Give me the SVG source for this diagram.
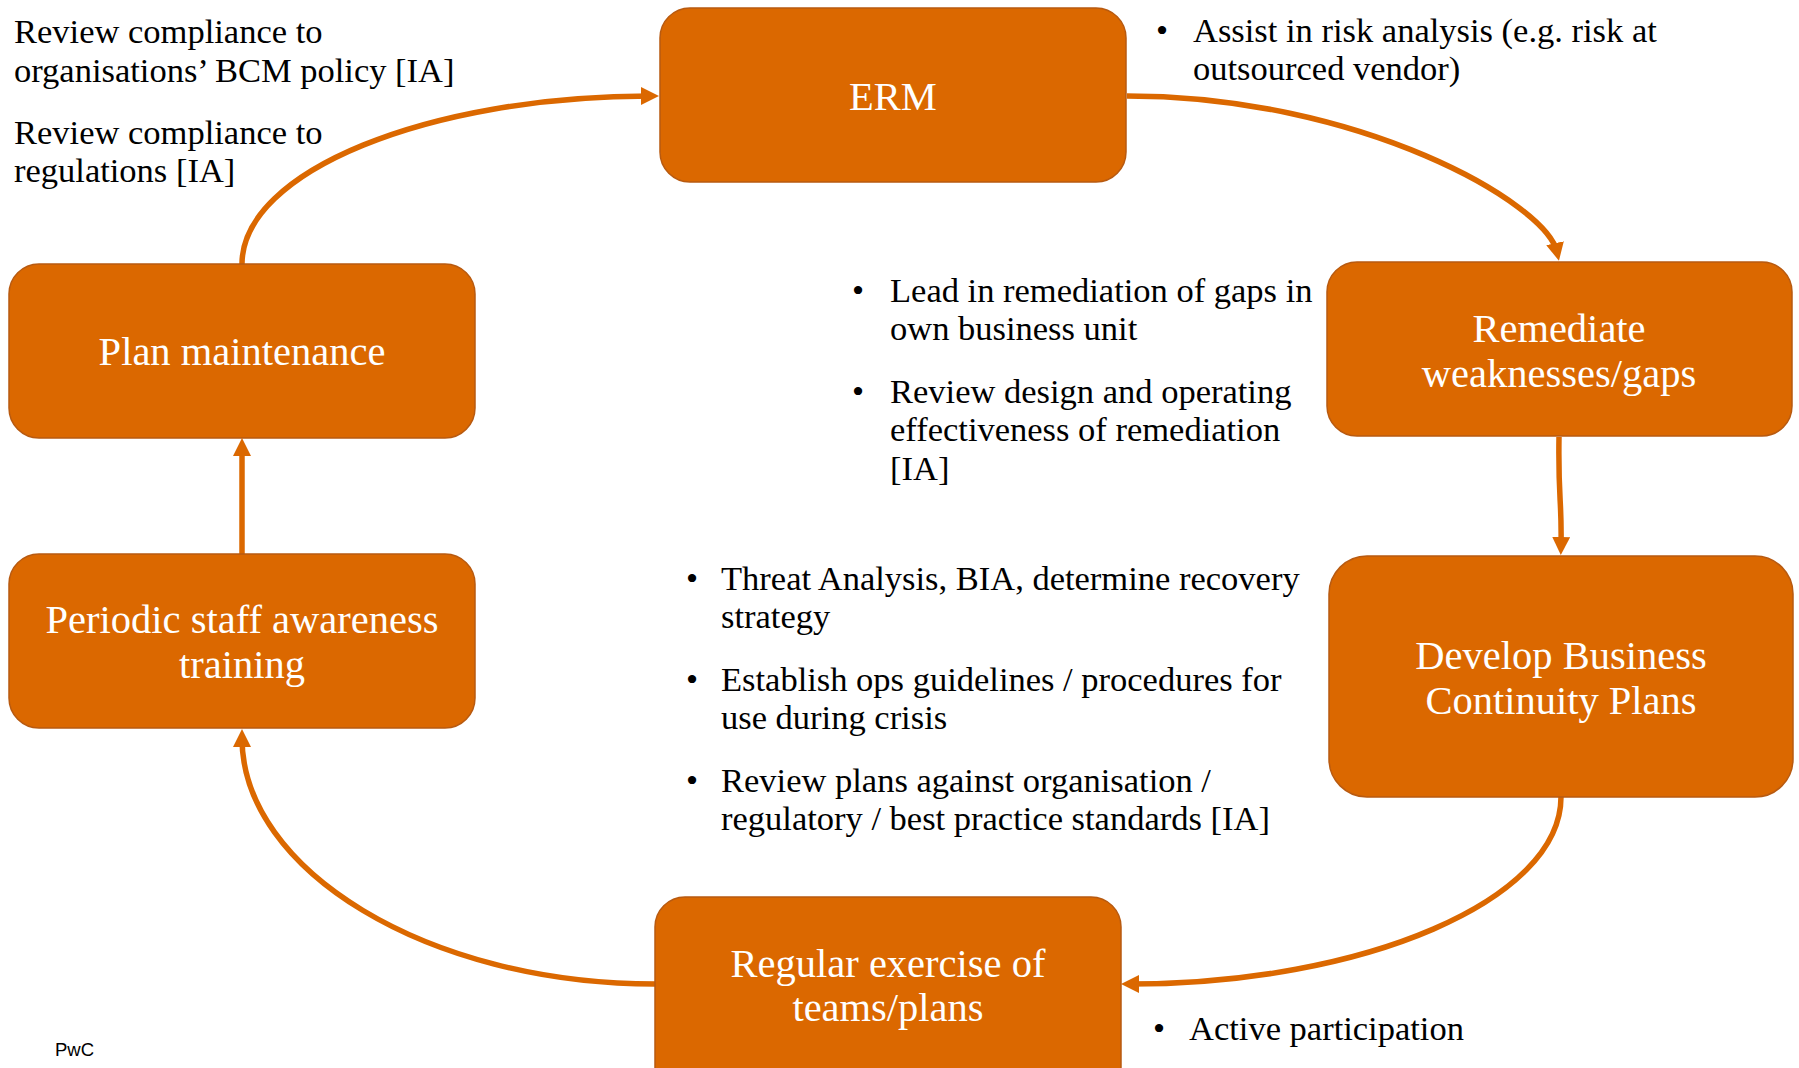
<svg xmlns="http://www.w3.org/2000/svg" width="1799" height="1068" viewBox="0 0 1799 1068">
  <style>
    .node rect { fill: #DB6800; stroke: #B85A10; stroke-width: 1.5; }
    .node text { font-family: "Liberation Serif", "Times New Roman", serif; font-size: 40.5px; fill: #FFFFFF; text-anchor: middle; }
    .note { font-family: "Liberation Serif", "Times New Roman", serif; font-size: 34.5px; fill: #000000; }
    .bullet { text-anchor: middle; }
    .conn path { fill: none; stroke: #DB6800; stroke-width: 5.5; }
    .footer { font-family: "Liberation Sans", Arial, sans-serif; font-size: 18.5px; fill: #000000; }
  </style>
  <defs>
    <marker id="arrow" markerUnits="userSpaceOnUse" markerWidth="18" markerHeight="18" viewBox="0 0 18 18" refX="9" refY="9" orient="auto">
      <path d="M0,0 L18,9 L0,18 z" fill="#DB6800"/>
    </marker>
  </defs>

  <!-- cycle connectors -->
  <g id="connectors" class="conn">
    <path id="c-plan-erm" d="M242,264 C242,171 429,96 650,96" marker-end="url(#arrow)"/>
    <path id="c-erm-remediate" d="M1127,96 C1360,96 1546,203 1557,252" marker-end="url(#arrow)"/>
    <path id="c-remediate-develop" d="M1559,437 C1558,500 1562,500 1561,546" marker-end="url(#arrow)"/>
    <path id="c-develop-exercise" d="M1561,797 C1561,900 1364,984 1130,984" marker-end="url(#arrow)"/>
    <path id="c-exercise-training" d="M655,984 C427,984 242,870 242,738" marker-end="url(#arrow)"/>
    <path id="c-training-plan" d="M242,554 L242,447" marker-end="url(#arrow)"/>
  </g>

  <!-- process steps -->
  <g id="erm" class="node">
    <rect x="660" y="8" width="466" height="174" rx="30" ry="30"/>
    <text x="893" y="110">ERM</text>
  </g>
  <g id="remediate" class="node">
    <rect x="1327" y="262" width="465" height="174" rx="30" ry="30"/>
    <text x="1559" y="342">Remediate</text>
    <text x="1559" y="387">weaknesses/gaps</text>
  </g>
  <g id="develop" class="node">
    <rect x="1329" y="556" width="464" height="241" rx="38" ry="38"/>
    <text x="1561" y="669">Develop Business</text>
    <text x="1561" y="714">Continuity Plans</text>
  </g>
  <g id="exercise" class="node">
    <rect x="655" y="897" width="466" height="200" rx="30" ry="30"/>
    <text x="888" y="977">Regular exercise of</text>
    <text x="888" y="1021">teams/plans</text>
  </g>
  <g id="training" class="node">
    <rect x="9" y="554" width="466" height="174" rx="30" ry="30"/>
    <text x="242" y="633">Periodic staff awareness</text>
    <text x="242" y="678">training</text>
  </g>
  <g id="plan" class="node">
    <rect x="9" y="264" width="466" height="174" rx="30" ry="30"/>
    <text x="242" y="365">Plan maintenance</text>
  </g>

  <!-- role notes -->
  <g id="notes-plan">
    <text class="note" x="14" y="43">Review compliance to</text>
    <text class="note" x="14" y="82">organisations’ BCM policy [IA]</text>
    <text class="note" x="14" y="144">Review compliance to</text>
    <text class="note" x="14" y="182">regulations [IA]</text>
  </g>
  <g id="notes-erm">
    <text class="note bullet" x="1162" y="42">•</text>
    <text class="note" x="1193" y="42">Assist in risk analysis (e.g. risk at</text>
    <text class="note" x="1193" y="80">outsourced vendor)</text>
  </g>
  <g id="notes-remediate">
    <text class="note bullet" x="858" y="302">•</text>
    <text class="note" x="890" y="302">Lead in remediation of gaps in</text>
    <text class="note" x="890" y="340">own business unit</text>
    <text class="note bullet" x="858" y="403">•</text>
    <text class="note" x="890" y="403">Review design and operating</text>
    <text class="note" x="890" y="441">effectiveness of remediation</text>
    <text class="note" x="890" y="480">[IA]</text>
  </g>
  <g id="notes-develop">
    <text class="note bullet" x="692" y="590">•</text>
    <text class="note" x="721" y="590">Threat Analysis, BIA, determine recovery</text>
    <text class="note" x="721" y="628">strategy</text>
    <text class="note bullet" x="692" y="691">•</text>
    <text class="note" x="721" y="691">Establish ops guidelines / procedures for</text>
    <text class="note" x="721" y="729">use during crisis</text>
    <text class="note bullet" x="692" y="792">•</text>
    <text class="note" x="721" y="792">Review plans against organisation /</text>
    <text class="note" x="721" y="830">regulatory / best practice standards [IA]</text>
  </g>
  <g id="notes-exercise">
    <text class="note bullet" x="1159" y="1040">•</text>
    <text class="note" x="1189" y="1040">Active participation</text>
  </g>

  <text class="footer" x="55" y="1056">PwC</text>
</svg>
